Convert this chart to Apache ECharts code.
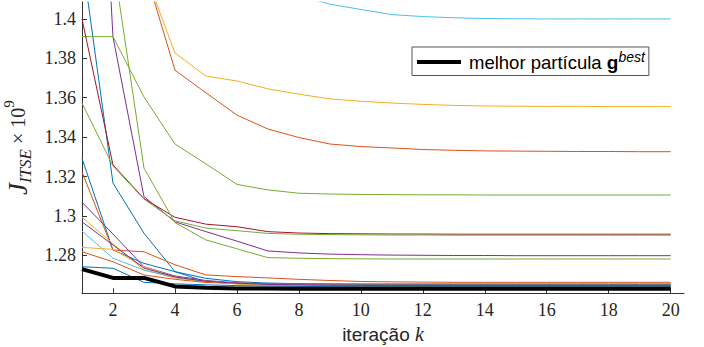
<!DOCTYPE html>
<html>
<head>
<meta charset="utf-8">
<script src="https://cdn.jsdelivr.net/npm/echarts@6/dist/echarts.min.js"></script>
<style>
  html, body { margin: 0; padding: 0; background: #ffffff; }
  #chart { width: 704px; height: 347px; }
</style>
</head>
<body>
<div id="chart"></div>
<script>
// Iteration index and axis ticks
const iterations = [1, 2, 3, 4, 5, 6, 7, 8, 9, 10, 11, 12, 13, 14, 15, 16, 17, 18, 19, 20];
const xTicks = [2, 4, 6, 8, 10, 12, 14, 16, 18, 20];
const yTicks = [1.28, 1.3, 1.32, 1.34, 1.36, 1.38, 1.4];

// Cost J_ITSE (x 1e9) of every particle at each iteration
const particle01 = [1.431, 1.3167, 1.2912, 1.2717, 1.2666, 1.2656, 1.2652, 1.2650, 1.2648, 1.2647, 1.2646, 1.2646, 1.2645, 1.2645, 1.2645, 1.2645, 1.2645, 1.2645, 1.2645, 1.2645];
const particle02 = [1.62, 1.52, 1.4265, 1.374, 1.3625, 1.3512, 1.3441, 1.3398, 1.3365, 1.3352, 1.3345, 1.3337, 1.3333, 1.3330, 1.3329, 1.3328, 1.3327, 1.3327, 1.3326, 1.3326];
const particle03 = [1.60, 1.50, 1.425, 1.3827, 1.3710, 1.3685, 1.3645, 1.3618, 1.3594, 1.3582, 1.3573, 1.3566, 1.3561, 1.3558, 1.3557, 1.3556, 1.3556, 1.3555, 1.3555, 1.3555];
const particle04 = [1.68, 1.3909, 1.3098, 1.2970, 1.2920, 1.2872, 1.2822, 1.2812, 1.2806, 1.2803, 1.2801, 1.2800, 1.2799, 1.2799, 1.2798, 1.2798, 1.2798, 1.2798, 1.2798, 1.2798];
const particle05 = [1.391, 1.391, 1.3604, 1.3365, 1.3264, 1.3160, 1.3132, 1.3115, 1.3111, 1.3109, 1.3108, 1.3107, 1.3107, 1.3106, 1.3106, 1.3106, 1.3106, 1.3106, 1.3106, 1.3106];
const particle06 = [1.60, 1.55, 1.50, 1.47, 1.445, 1.43, 1.42, 1.412, 1.4075, 1.4048, 1.4022, 1.4012, 1.4006, 1.4002, 1.4001, 1.4000, 1.4000, 1.4000, 1.4000, 1.4000];
const particle07 = [1.400, 1.3259, 1.3088, 1.2993, 1.2958, 1.2945, 1.2920, 1.2913, 1.2910, 1.2909, 1.2908, 1.2908, 1.2907, 1.2907, 1.2907, 1.2907, 1.2907, 1.2907, 1.2907, 1.2907];
const particle08 = [1.3292, 1.2827, 1.2759, 1.2717, 1.2683, 1.2666, 1.2659, 1.2656, 1.2654, 1.2653, 1.2652, 1.2652, 1.2652, 1.2652, 1.2652, 1.2652, 1.2652, 1.2652, 1.2652, 1.2652];
const particle09 = [1.3223, 1.2827, 1.2818, 1.2752, 1.2700, 1.2692, 1.2685, 1.2678, 1.2672, 1.2667, 1.2665, 1.2664, 1.2663, 1.2663, 1.2663, 1.2663, 1.2663, 1.2663, 1.2663, 1.2663];
const particle10 = [1.2993, 1.2859, 1.2725, 1.2685, 1.2665, 1.2655, 1.2650, 1.2648, 1.2646, 1.2645, 1.2644, 1.2644, 1.2644, 1.2644, 1.2644, 1.2644, 1.2644, 1.2644, 1.2644, 1.2644];
const particle11 = [1.3069, 1.2908, 1.2742, 1.2695, 1.2672, 1.2660, 1.2655, 1.2652, 1.2650, 1.2649, 1.2648, 1.2648, 1.2648, 1.2648, 1.2648, 1.2648, 1.2648, 1.2648, 1.2648, 1.2648];
const particle12 = [1.55, 1.43, 1.3243, 1.2966, 1.2878, 1.2833, 1.2788, 1.2785, 1.2783, 1.2782, 1.2781, 1.2781, 1.2781, 1.2781, 1.2781, 1.2781, 1.2781, 1.2781, 1.2781, 1.2781];
const particle13 = [1.2923, 1.2785, 1.2725, 1.2688, 1.2668, 1.2657, 1.2652, 1.2650, 1.2649, 1.2648, 1.2648, 1.2648, 1.2648, 1.2648, 1.2648, 1.2648, 1.2648, 1.2648, 1.2648, 1.2648];
const particle14 = [1.2818, 1.2767, 1.2700, 1.2678, 1.2662, 1.2658, 1.2656, 1.2655, 1.2655, 1.2655, 1.2655, 1.2655, 1.2655, 1.2655, 1.2655, 1.2655, 1.2655, 1.2655, 1.2655, 1.2655];
const particle15 = [1.2840, 1.2830, 1.2742, 1.2690, 1.2668, 1.2655, 1.2649, 1.2646, 1.2644, 1.2643, 1.2642, 1.2642, 1.2642, 1.2642, 1.2642, 1.2642, 1.2642, 1.2642, 1.2642, 1.2642];
const particle16 = [1.2970, 1.2852, 1.2735, 1.2690, 1.2668, 1.2658, 1.2652, 1.2650, 1.2648, 1.2647, 1.2646, 1.2646, 1.2646, 1.2646, 1.2646, 1.2646, 1.2646, 1.2646, 1.2646, 1.2646];
const particle17 = [1.3573, 1.3253, 1.3085, 1.2975, 1.2938, 1.2925, 1.2911, 1.2907, 1.2905, 1.2904, 1.2903, 1.2903, 1.2902, 1.2902, 1.2902, 1.2902, 1.2902, 1.2902, 1.2902, 1.2902];
const particle18 = [1.2742, 1.2734, 1.2663, 1.2655, 1.2650, 1.2646, 1.2644, 1.2642, 1.2641, 1.2640, 1.2640, 1.2640, 1.2640, 1.2640, 1.2640, 1.2640, 1.2640, 1.2640, 1.2640, 1.2640];

// Best particle (g^best) cost history
const bestCost = [1.2730, 1.2685, 1.2685, 1.2642, 1.2635, 1.2632, 1.2631, 1.2630, 1.2630, 1.2630, 1.2630, 1.2630, 1.2630, 1.2630, 1.2630, 1.2630, 1.2630, 1.2630, 1.2630, 1.2630];

const particles = [
  particle01, particle02, particle03, particle04, particle05, particle06, particle07,
  particle08, particle09, particle10, particle11, particle12, particle13, particle14,
  particle15, particle16, particle17, particle18
];
const particleColors = [
  '#0072BD', '#D95319', '#EDB120', '#7E2F8E', '#77AC30', '#4DBEEE', '#A2142F',
  '#0072BD', '#D95319', '#EDB120', '#7E2F8E', '#77AC30', '#4DBEEE', '#D95319',
  '#EDB120', '#7E2F8E', '#77AC30', '#0072BD'
];

const toPoints = vals => vals.map((v, i) => [iterations[i], v]);

const axisColor = '#333333';
const serif = "'Liberation Serif', 'DejaVu Serif', serif";
const sans = "'Liberation Sans', Arial, sans-serif";

const series = particles.map((vals, i) => ({
  name: 'particula' + (i + 1),
  type: 'line',
  data: toPoints(vals),
  symbol: 'none',
  clip: true,
  lineStyle: { width: 1, color: particleColors[i] },
  itemStyle: { color: particleColors[i] },
  emphasis: { disabled: true },
  z: 2
}));

series.push({
  name: 'gbest',
  type: 'line',
  data: toPoints(bestCost),
  symbol: 'none',
  clip: true,
  lineStyle: { width: 4, color: '#000000' },
  itemStyle: { color: '#000000' },
  emphasis: { disabled: true },
  z: 3
});

const chart = echarts.init(document.getElementById('chart'), null, { renderer: 'svg' });
chart.setOption({
  animation: false,
  backgroundColor: '#ffffff',
  grid: { left: 82, top: 2, width: 602, height: 291.3, containLabel: false, outerBoundsMode: 'none' },
  legend: {
    data: ['gbest'],
    left: 412,
    top: 47,
    padding: [3, 4, 4, 5],
    icon: 'rect',
    itemWidth: 44,
    itemHeight: 4,
    backgroundColor: '#ffffff',
    borderColor: '#555555',
    borderWidth: 1,
    borderRadius: 0,
    selectedMode: false,
    formatter: () => '{t|melhor partícula }{g|g}{b|best}',
    textStyle: {
      rich: {
        t: { fontFamily: sans, fontSize: 18.5, color: '#000000', lineHeight: 24, padding: [0, 0, 0, 3] },
        g: { fontFamily: sans, fontSize: 19, fontWeight: 'bold', color: '#000000', lineHeight: 24 },
        b: { fontFamily: sans, fontSize: 14, fontStyle: 'italic', color: '#000000', lineHeight: 14, verticalAlign: 'top' }
      }
    }
  },
  xAxis: {
    type: 'value',
    min: 1,
    max: 20.43,
    name: '{n|iteração }{k|k}',
    nameLocation: 'middle',
    nameGap: 27,
    nameTextStyle: {
      rich: {
        n: { fontFamily: sans, fontSize: 19, color: '#262626' },
        k: { fontFamily: serif, fontStyle: 'italic', fontSize: 20, color: '#262626' }
      }
    },
    axisLine: { show: true, onZero: false, lineStyle: { color: axisColor, width: 1 } },
    axisTick: { show: true, inside: true, length: 5, customValues: xTicks, lineStyle: { color: axisColor } },
    axisLabel: {
      customValues: xTicks,
      margin: 8,
      fontFamily: serif,
      fontSize: 18,
      color: '#262626'
    },
    splitLine: { show: false }
  },
  yAxis: {
    type: 'value',
    min: 1.2607,
    max: 1.4086,
    name: '{j|J}{s|ITSE}{m| × 10}{p|9}',
    nameLocation: 'middle',
    nameRotate: 90,
    nameGap: 28,
    nameTextStyle: {
      rich: {
        j: { fontFamily: serif, fontStyle: 'italic', fontSize: 27, lineHeight: 32, color: '#262626' },
        s: { fontFamily: serif, fontStyle: 'italic', fontSize: 17, lineHeight: 17, verticalAlign: 'bottom', color: '#262626' },
        m: { fontFamily: serif, fontSize: 20, lineHeight: 32, color: '#262626' },
        p: { fontFamily: serif, fontSize: 15, lineHeight: 15, verticalAlign: 'top', color: '#262626' }
      }
    },
    axisLine: { show: true, onZero: false, lineStyle: { color: axisColor, width: 1 } },
    axisTick: { show: true, inside: true, length: 5, customValues: yTicks, lineStyle: { color: axisColor } },
    axisLabel: {
      customValues: yTicks,
      margin: 6,
      fontFamily: serif,
      fontSize: 18,
      color: '#262626',
      formatter: v => String(+v.toFixed(2))
    },
    splitLine: { show: false }
  },
  series: series
});
</script>
</body>
</html>
